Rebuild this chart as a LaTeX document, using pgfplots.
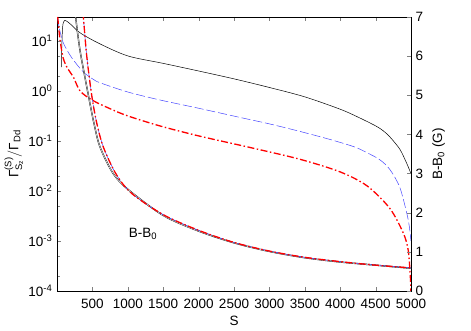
\documentclass[border=0pt]{standalone}
\usepackage{fontspec}
\setmainfont{Liberation Sans}
\usepackage{amsmath}
\usepackage{pgfplots}
\pgfplotsset{compat=1.18}

\definecolor{gpblue}{RGB}{70,70,255}

\begin{document}
\fontsize{13.5}{15}\selectfont
\begin{tikzpicture}
\pgfplotsset{every axis/.append style={
  font=\fontsize{13.5}{15}\selectfont,
  scale only axis, width=354pt, height=274pt,
  xmin=0, xmax=5000, tick align=inside,
  /pgf/number format/assume math mode=true,
  /pgf/number format/1000 sep={},
  major tick length=4pt, minor tick length=2.5pt}}
\begin{axis}[name=ax, ymode=log, ymin=1e-4, ymax=30,
  ytick={1e-4,1e-3,1e-2,1e-1,1,10},
  yticklabels={10\textsuperscript{-4},10\textsuperscript{-3},10\textsuperscript{-2},10\textsuperscript{-1},10\textsuperscript{0},10\textsuperscript{1}},
  minor ytick={2e-4,5e-4,2e-3,5e-3,2e-2,5e-2,2e-1,5e-1,2,5,20},
  ytick pos=left,
  xtick={500,1000,...,5000},
  x tick label style={yshift=-3pt},
  xlabel={S}, xlabel style={yshift=1pt},
  ylabel={$\text{Γ}^{\text{(S)}}_{\text{S}_{\text{z}}}/\text{Γ}_{\text{Dd}}$},
  ylabel style={yshift=-4pt}]
% black
\addplot[black, line width=0.5pt, smooth, tension=0.5] coordinates {
  (60,3) (65,6) (75,15) (85,22) (110,25.6) (150,24) (200,21) (325,14.5)
  (600,8.8) (1000,5.0) (1500,3.55) (2000,2.5) (2500,1.74) (3000,1.17)
  (3500,0.76) (4000,0.43) (4250,0.3) (4500,0.2) (4606,0.16) (4702,0.12)
  (4843,0.068) (4938,0.036) (4990,0.024) (5000,0.022)};
% blue
\addplot[gpblue, line width=0.5pt, dash pattern=on 9pt off 3pt, smooth, tension=0.5] coordinates {
  (5,30) (20,22) (40,16) (90,9) (208,4.6) (370,2.4) (513,1.7) (610,1.45)
  (1000,0.95) (1450,0.66) (2000,0.45) (2584,0.295) (3000,0.219) (3430,0.155)
  (3855,0.107) (4200,0.076) (4380,0.058) (4560,0.042) (4700,0.027)
  (4840,0.012) (4940,0.0036) (4975,0.002) (5000,0.001)};
% red
\addplot[red, line width=1.3pt, dash pattern=on 7pt off 2.5pt on 1.5pt off 2.5pt, smooth, tension=0.5] coordinates {
  (10,30) (25,18) (42,10.5) (88,4.5) (150,2.8) (231,1.9) (325,1.0)
  (500,0.65) (750,0.44) (1000,0.316) (1450,0.2) (2000,0.126) (2725,0.074)
  (3430,0.043) (4000,0.024) (4380,0.0126) (4700,0.0045) (4890,0.00145)
  (4960,0.00066) (4990,0.0002) (5000,0.00008)};
\end{axis}
\begin{axis}[axis y line*=right, axis x line=none,
  ymin=0, ymax=7, ytick={0,1,...,7},
  ylabel={B-B\textsubscript{0} (G)}]
\addplot[black, line width=0.4pt, double=white, double distance=0.5pt, smooth, tension=0.5] coordinates {
  (230,7.8) (264,7.0) (320,6.2) (380,5.6) (443,5.0) (520,4.3) (607,3.68)
  (790,3.01) (1000,2.6) (1500,1.93) (2000,1.53) (2500,1.23) (3000,1.01)
  (3500,0.85) (4000,0.74) (4500,0.66) (5000,0.58)};
\addplot[gpblue, line width=0.5pt, dash pattern=on 9pt off 3pt, smooth, tension=0.5] coordinates {
  (335,7.8) (372,7.0) (420,6.0) (490,5.0) (560,4.3) (654,3.68) (830,3.0)
  (1050,2.5) (1500,1.95) (2000,1.55) (2500,1.24) (3000,1.02) (3500,0.86)
  (4000,0.75) (4500,0.66) (5000,0.59)};
\addplot[red, line width=1.3pt, dash pattern=on 7pt off 2.5pt on 1.5pt off 2.5pt, smooth, tension=0.5] coordinates {
  (335,7.8) (372,7.0) (420,6.0) (490,5.0) (560,4.3) (654,3.68) (830,3.0)
  (1050,2.5) (1500,1.95) (2000,1.55) (2500,1.24) (3000,1.02) (3500,0.86)
  (4000,0.75) (4500,0.66) (5000,0.59)};
\node at (axis cs:1214,1.45) {B-B\textsubscript{0}};
\end{axis}
\path ([shift={(-57pt,-39pt)}]ax.south west) rectangle ++(471pt,330pt);
\end{tikzpicture}
\end{document}
